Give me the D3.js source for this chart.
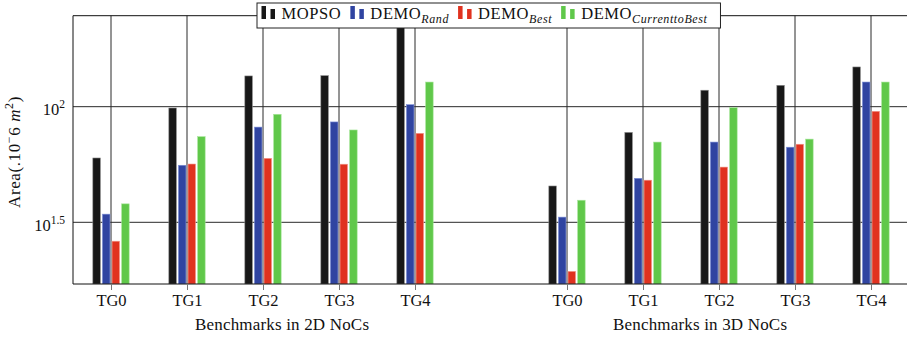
<!DOCTYPE html>
<html>
<head>
<meta charset="utf-8">
<script src="https://cdn.jsdelivr.net/npm/d3@7"></script>
<style>
  body { margin: 0; background: #fff; }
  text { font-family: "Liberation Serif", "Times New Roman", serif; fill: #111; }
</style>
</head>
<body>
<div id="chart"></div>
<script>
// tick labels and where they sit on the (numeric) x axis
var tgLabels = ["TG0", "TG1", "TG2", "TG3", "TG4", "TG0", "TG1", "TG2", "TG3", "TG4"];
var tgPositions = [0, 1, 2, 3, 4, 6, 7, 8, 9, 10];
var groupTitles = ["Benchmarks in 2D NoCs", "Benchmarks in 3D NoCs"];

// series (area values)
var seriesNames = ["MOPSO", "DEMO", "DEMO", "DEMO"];
var seriesSubs = ["", "Rand", "Best", "CurrenttoBest"];
var mopso     = [60.0, 98.7, 135.8, 136.2, 250.0, 45.4, 77.4, 117.8, 123.7, 148.5];
var demoRand  = [34.3, 55.8, 81.6, 85.9, 102.0, 33.3, 49.0, 70.3, 66.8, 127.8];
var demoBest  = [26.2, 56.5, 59.8, 56.4, 76.7, 19.4, 48.1, 54.8, 68.8, 95.5];
var demoCtB   = [38.0, 74.2, 92.7, 79.3, 127.8, 39.4, 70.3, 99.0, 72.4, 127.8];
var yTicks = [Math.pow(10, 1.5), 100];
var yTickExp = ["1.5", "2"];

var seriesValues = [mopso, demoRand, demoBest, demoCtB];
var fills = ["#181818", "#3044a1", "#e0321f", "#60c84a"];
var edges = ["#8a8a8a", "#7d8fd6", "#f29a8e", "#a7e69a"];

var W = 907, H = 337;
var mLeft = 73, mTop = 15.7, mRight = 909, mBottom = 284;

var svg = d3.select("#chart").append("svg")
  .attr("width", W)
  .attr("height", H);

var x = d3.scaleLinear().domain([-0.5, 10.5]).range([mLeft, mRight]);
var y = d3.scaleLog().domain([17.11, 247.4]).range([mBottom, mTop]);

svg.append("clipPath").attr("id", "plot")
  .append("rect")
  .attr("x", mLeft).attr("y", mTop)
  .attr("width", mRight - mLeft).attr("height", mBottom - mTop);

// grid lines
var grid = svg.append("g").attr("stroke", "#2a2a2a").attr("stroke-width", 1);
grid.selectAll("line.v")
  .data(tgPositions)
  .enter().append("line")
  .attr("class", "v")
  .attr("x1", function(d) { return x(d); })
  .attr("x2", function(d) { return x(d); })
  .attr("y1", mTop).attr("y2", mBottom);
grid.selectAll("line.h")
  .data(yTicks)
  .enter().append("line")
  .attr("class", "h")
  .attr("x1", mLeft).attr("x2", mRight)
  .attr("y1", function(d) { return y(d); })
  .attr("y2", function(d) { return y(d); });

// bars
var step = 0.1263, bw = x(0.099) - x(0);
var bars = svg.append("g").attr("clip-path", "url(#plot)");
seriesValues.forEach(function(vals, i) {
  bars.selectAll("rect.s" + i)
    .data(vals)
    .enter().append("rect")
    .attr("class", "s" + i)
    .attr("x", function(d, j) { return x(tgPositions[j] + (i - 1.5) * step) - bw / 2; })
    .attr("y", function(d) { return y(d); })
    .attr("width", bw)
    .attr("height", function(d) { return mBottom - y(d); })
    .attr("fill", fills[i])
    .attr("stroke", edges[i])
    .attr("stroke-width", 0.6);
});

// frame
svg.append("path")
  .attr("d", "M" + mRight + "," + mTop + "H" + mLeft + "V" + mBottom + "H" + mRight)
  .attr("fill", "none")
  .attr("stroke", "#111")
  .attr("stroke-width", 1);

// x axis
var xAxis = svg.append("g")
  .attr("transform", "translate(0," + mBottom + ")")
  .call(d3.axisBottom(x)
    .tickValues(tgPositions)
    .tickSize(6)
    .tickPadding(4)
    .tickFormat(function(d, i) { return tgLabels[i]; }));
xAxis.select(".domain").remove();
xAxis.selectAll(".tick line").attr("stroke", "#777");
xAxis.selectAll("text")
  .attr("font-family", "Liberation Serif")
  .attr("font-size", 16.5)
  .attr("fill", "#111");

svg.selectAll("text.gtitle")
  .data(groupTitles)
  .enter().append("text")
  .attr("class", "gtitle")
  .attr("x", function(d, i) { return mLeft + (mRight - mLeft) * (i === 0 ? 0.25 : 0.75); })
  .attr("y", 330)
  .attr("text-anchor", "middle")
  .attr("font-size", 17)
  .attr("textLength", 174)
  .attr("lengthAdjust", "spacing")
  .text(function(d) { return d; });

// y axis labels 10^1.5, 10^2
var yAxis = svg.append("g")
  .attr("transform", "translate(" + mLeft + ",0)")
  .call(d3.axisLeft(y).tickValues(yTicks).tickSize(0).tickPadding(8).tickFormat(""));
yAxis.select(".domain").remove();
yAxis.selectAll(".tick text")
  .attr("font-family", "Liberation Serif")
  .attr("font-size", 16.5)
  .attr("fill", "#111")
  .attr("dy", "0.5em")
  .each(function(d, i) {
    var t = d3.select(this);
    t.append("tspan").text("10");
    t.append("tspan").attr("font-size", 11.5).attr("dy", -7).text(yTickExp[i]);
  });

// y title
var yt = svg.append("text")
  .attr("transform", "translate(20,152) rotate(-90)")
  .attr("text-anchor", "middle")
  .attr("font-size", 17)
  .attr("letter-spacing", 0.6);
yt.append("tspan").text("Area(.10");
yt.append("tspan").attr("font-size", 12).attr("dy", -7).text("\u2212");
yt.append("tspan").attr("dy", 7).text("6 ");
yt.append("tspan").attr("font-style", "italic").text("m");
yt.append("tspan").attr("font-size", 12).attr("dy", -7).text("2");
yt.append("tspan").attr("dy", 7).text(")");

// legend
var lg = svg.append("g");
var box = lg.append("rect")
  .attr("x", 257).attr("y", 3).attr("height", 25)
  .attr("fill", "#fff").attr("stroke", "#222").attr("stroke-width", 1);
var cx = 261.5, base = 19;
seriesNames.forEach(function(name, i) {
  lg.append("rect").attr("x", cx).attr("y", base - 13).attr("width", 4.5).attr("height", 13).attr("fill", fills[i]);
  lg.append("rect").attr("x", cx + 9).attr("y", base - 10).attr("width", 4.5).attr("height", 10).attr("fill", fills[i]);
  var t = lg.append("text").attr("x", cx + 20).attr("y", base).attr("font-size", 16.5).attr("letter-spacing", 0.6);
  t.append("tspan").text(name);
  if (seriesSubs[i]) {
    t.append("tspan").attr("font-size", 12).attr("font-style", "italic").attr("dy", 4).text(seriesSubs[i]);
  }
  cx = cx + 20 + t.node().getComputedTextLength() + 9;
});
box.attr("width", cx - 257 + 4);
</script>
</body>
</html>
